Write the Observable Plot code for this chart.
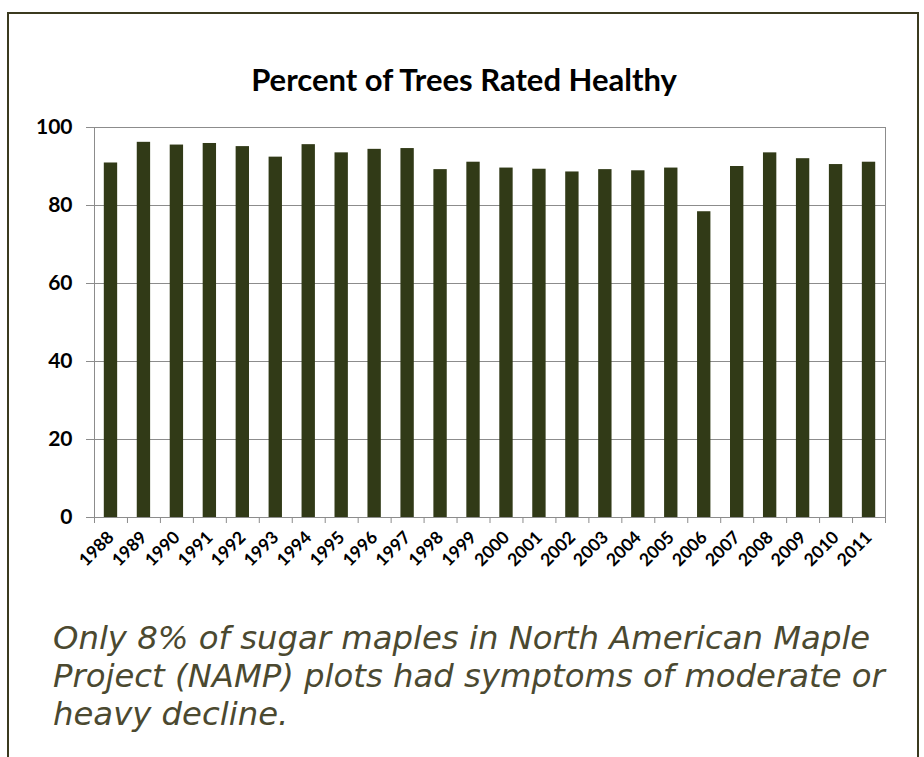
<!DOCTYPE html>
<html>
<head>
<meta charset="utf-8">
<script src="https://cdn.jsdelivr.net/npm/d3@7"></script>
<script src="https://cdn.jsdelivr.net/npm/@observablehq/plot@0.6"></script>
<style>
  html, body { margin: 0; padding: 0; background: #fff; width: 924px; height: 757px; overflow: hidden; }
  #frame { position: absolute; left: 7px; top: 12px; width: 908px; height: 760px;
           border: 2px solid #3b3a1f; border-bottom: none; }
  #title { position: absolute; left: 0; width: 928px; top: 61px; text-align: center;
           font-family: Lato, sans-serif; font-weight: 700; font-size: 31px; line-height: 36px; color: #000; }
  #chart { position: absolute; left: 0; top: 100px; width: 924px; }
  #caption { position: absolute; left: 53px; top: 619px; font-family: "DejaVu Sans", sans-serif;
             font-style: italic; font-size: 32.3px; line-height: 38px; color: #4b4930; white-space: nowrap; }
</style>
</head>
<body>
<div id="frame"></div>
<div id="title">Percent of Trees Rated Healthy</div>
<div id="chart"></div>
<div id="caption">Only 8% of sugar maples in North American Maple<br>Project (NAMP) plots had symptoms of moderate or<br>heavy decline.</div>
<script>
const years = ["1988","1989","1990","1991","1992","1993","1994","1995","1996","1997","1998","1999",
               "2000","2001","2002","2003","2004","2005","2006","2007","2008","2009","2010","2011"];
const healthy = [90.9, 96.2, 95.5, 95.9, 95.1, 92.4, 95.6, 93.5, 94.4, 94.6, 89.2, 91.1,
                 89.6, 89.3, 88.6, 89.2, 88.9, 89.6, 78.4, 90.0, 93.5, 92.0, 90.5, 91.1];
const yTicks = [0, 20, 40, 60, 80, 100];

const data = years.map((year, i) => ({year, value: healthy[i]}));

const W = 924, H = 480, mL = 94, mR = 39, mT = 27, mB = 63;
const step = (W - mL - mR) / years.length;
const grey = "#8c8c8c";

const chart = Plot.plot({
  width: W, height: H,
  marginLeft: mL, marginRight: mR, marginTop: mT, marginBottom: mB,
  style: {fontFamily: "Lato, sans-serif", background: "transparent", color: "#000"},
  x: {type: "band", domain: years, padding: 0, round: false, label: null},
  y: {domain: [0, 100], label: null},
  marks: [
    Plot.ruleY(yTicks, {stroke: grey, strokeWidth: 1, insetLeft: -8}),
    Plot.frame({stroke: grey}),
    Plot.barY(data, {x: "year", y: "value", fill: "#313a17", insetLeft: 9.8, insetRight: 9.8}),
    Plot.axisY({ticks: yTicks, tickSize: 0, tickPadding: 22, fontSize: 21, fontWeight: "bold", fill: "#000"}),
    Plot.axisX({tickSize: 0, tickRotate: -45, tickPadding: 17, fontSize: 17.5, fontWeight: "bold", fill: "#000"}),
    Plot.axisX({tickSize: 6, tickFormat: () => "", dx: -step / 2, stroke: grey}),
    Plot.axisX({ticks: [years[years.length - 1]], tickSize: 6, tickFormat: () => "", dx: step / 2, stroke: grey})
  ]
});
document.getElementById("chart").appendChild(chart);
</script>
</body>
</html>
